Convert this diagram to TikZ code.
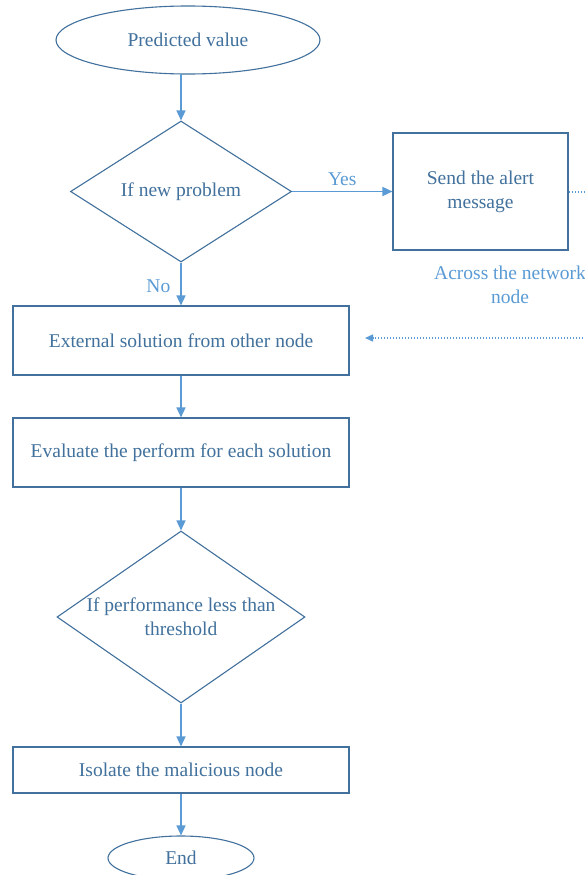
\documentclass[tikz,border=0pt]{standalone}
\usepackage{fontspec}
\setmainfont{Liberation Serif}
\usetikzlibrary{shapes.geometric,arrows.meta}
\definecolor{edgeblue}{RGB}{65,113,156}
\definecolor{arrowblue}{RGB}{91,155,213}
\tikzset{
  shapeline/.style={draw=edgeblue,line width=1.1pt,text=edgeblue,font=\fontsize{19.5}{24}\selectfont,align=center,inner sep=0pt},
  procbox/.style={shapeline,rectangle},
  termbox/.style={shapeline,ellipse},
  decbox/.style={shapeline,diamond},
  flow/.style={draw=arrowblue,line width=1.4pt,-{Triangle[length=10pt,width=9pt]}},
  dotflow/.style={draw=arrowblue,line width=1.3pt,dash pattern=on 1.4pt off 1.6pt},
  lbl/.style={text=arrowblue,font=\fontsize{19.5}{24}\selectfont,align=center,inner sep=0pt}
}
\begin{document}
\begin{tikzpicture}[x=1pt,y=-1pt]
\useasboundingbox[fill=white] (0,0) rectangle (585,875);
\node[termbox,minimum width=264pt,minimum height=68pt] (pv) at (188,40) {Predicted value};
\node[decbox,shape aspect=1.567,minimum width=221pt,minimum height=141pt] (np) at (181,191.5) {If new problem};
\node[procbox,minimum width=175pt,minimum height=117pt] (alert) at (480.5,191.5) {Send the alert\\message};
\node[procbox,minimum width=336pt,minimum height=69pt] (ext) at (181,340.5) {External solution from other node};
\node[procbox,minimum width=336pt,minimum height=69pt] (eval) at (181,452.5) {Evaluate the perform for each solution};
\node[decbox,shape aspect=1.44,minimum width=248pt,minimum height=172pt] (thr) at (181,617) {If performance less than\\threshold};
\node[procbox,minimum width=336pt,minimum height=46pt] (iso) at (181,770) {Isolate the malicious node};
\node[termbox,minimum width=146pt,minimum height=44pt] (end) at (181,858) {End};
\coordinate (pvb) at (181,74);
\draw[flow] (pvb) -- (np.north);
\draw[flow] (np.east) -- node[lbl,above=5pt] {Yes} (alert.west);
\draw[flow] (np.south) -- node[lbl,left=10pt,pos=0.55] {No} (ext.north);
\draw[flow] (ext.south) -- (eval.north);
\draw[flow] (eval.south) -- (thr.north);
\draw[flow] (thr.south) -- (iso.north);
\draw[flow] (iso.south) -- (end.north);
\coordinate (dr) at (586,192);
\draw[dotflow] (alert.east |- dr) -- (dr);
\coordinate (dl) at (586,338);
\coordinate (dend) at (365,338);
\draw[dotflow,-{Triangle[length=8pt,width=7pt]}] (dl) -- (dend);
\node[lbl] (across) at (510,285) {Across the network\\node};
\end{tikzpicture}
\end{document}
